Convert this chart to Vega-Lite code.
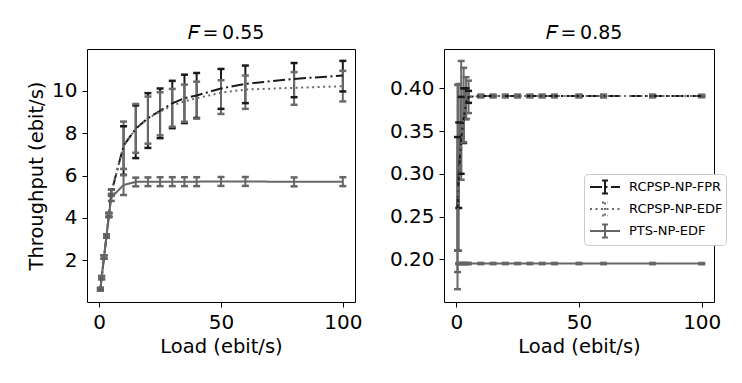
{
 "$schema": "https://vega.github.io/schema/vega-lite/v6.json",
 "background": "white",
 "padding": {"left": 26, "top": 23, "right": 5, "bottom": 5},
 "datasets": {
  "d": [
   {"p":"a","s":"RCPSP-NP-FPR","x":0.5,"m":0.64,"lo":0.58,"hi":0.70},
   {"p":"a","s":"RCPSP-NP-FPR","x":1,"m":1.19,"lo":1.12,"hi":1.26},
   {"p":"a","s":"RCPSP-NP-FPR","x":2,"m":2.16,"lo":2.08,"hi":2.24},
   {"p":"a","s":"RCPSP-NP-FPR","x":3,"m":3.15,"lo":3.07,"hi":3.23},
   {"p":"a","s":"RCPSP-NP-FPR","x":4,"m":4.15,"lo":4.06,"hi":4.24},
   {"p":"a","s":"RCPSP-NP-FPR","x":5,"m":5.2,"lo":5.06,"hi":5.34},
   {"p":"a","s":"RCPSP-NP-FPR","x":10,"m":7.4,"lo":6.03,"hi":8.32},
   {"p":"a","s":"RCPSP-NP-FPR","x":15,"m":8.2,"lo":6.82,"hi":9.3},
   {"p":"a","s":"RCPSP-NP-FPR","x":20,"m":8.7,"lo":7.3,"hi":9.88},
   {"p":"a","s":"RCPSP-NP-FPR","x":25,"m":9.05,"lo":7.76,"hi":10.1},
   {"p":"a","s":"RCPSP-NP-FPR","x":30,"m":9.4,"lo":8.23,"hi":10.46},
   {"p":"a","s":"RCPSP-NP-FPR","x":35,"m":9.64,"lo":8.47,"hi":10.75},
   {"p":"a","s":"RCPSP-NP-FPR","x":40,"m":9.77,"lo":8.71,"hi":10.83},
   {"p":"a","s":"RCPSP-NP-FPR","x":50,"m":10.1,"lo":9.14,"hi":11.02},
   {"p":"a","s":"RCPSP-NP-FPR","x":60,"m":10.32,"lo":9.41,"hi":11.18},
   {"p":"a","s":"RCPSP-NP-FPR","x":80,"m":10.55,"lo":9.69,"hi":11.3},
   {"p":"a","s":"RCPSP-NP-FPR","x":100,"m":10.71,"lo":9.96,"hi":11.4},
   {"p":"a","s":"RCPSP-NP-EDF","x":0.5,"m":0.64,"lo":0.58,"hi":0.70},
   {"p":"a","s":"RCPSP-NP-EDF","x":1,"m":1.19,"lo":1.12,"hi":1.26},
   {"p":"a","s":"RCPSP-NP-EDF","x":2,"m":2.16,"lo":2.08,"hi":2.24},
   {"p":"a","s":"RCPSP-NP-EDF","x":3,"m":3.15,"lo":3.07,"hi":3.23},
   {"p":"a","s":"RCPSP-NP-EDF","x":4,"m":4.15,"lo":4.06,"hi":4.24},
   {"p":"a","s":"RCPSP-NP-EDF","x":5,"m":5.2,"lo":5.1,"hi":5.35},
   {"p":"a","s":"RCPSP-NP-EDF","x":10,"m":7.4,"lo":6.31,"hi":8.54},
   {"p":"a","s":"RCPSP-NP-EDF","x":15,"m":8.2,"lo":7.07,"hi":9.37},
   {"p":"a","s":"RCPSP-NP-EDF","x":20,"m":8.7,"lo":7.5,"hi":9.72},
   {"p":"a","s":"RCPSP-NP-EDF","x":25,"m":9.0,"lo":7.89,"hi":9.92},
   {"p":"a","s":"RCPSP-NP-EDF","x":30,"m":9.3,"lo":8.3,"hi":10.08},
   {"p":"a","s":"RCPSP-NP-EDF","x":35,"m":9.49,"lo":8.53,"hi":10.28},
   {"p":"a","s":"RCPSP-NP-EDF","x":40,"m":9.64,"lo":8.68,"hi":10.42},
   {"p":"a","s":"RCPSP-NP-EDF","x":50,"m":9.9,"lo":8.9,"hi":10.49},
   {"p":"a","s":"RCPSP-NP-EDF","x":60,"m":10.05,"lo":9.14,"hi":10.71},
   {"p":"a","s":"RCPSP-NP-EDF","x":80,"m":10.13,"lo":9.33,"hi":10.87},
   {"p":"a","s":"RCPSP-NP-EDF","x":100,"m":10.21,"lo":9.49,"hi":10.93},
   {"p":"a","s":"PTS-NP-EDF","x":0.5,"m":0.64,"lo":0.58,"hi":0.70},
   {"p":"a","s":"PTS-NP-EDF","x":1,"m":1.19,"lo":1.12,"hi":1.26},
   {"p":"a","s":"PTS-NP-EDF","x":2,"m":2.16,"lo":2.08,"hi":2.24},
   {"p":"a","s":"PTS-NP-EDF","x":3,"m":3.15,"lo":3.07,"hi":3.23},
   {"p":"a","s":"PTS-NP-EDF","x":4,"m":4.12,"lo":4.03,"hi":4.21},
   {"p":"a","s":"PTS-NP-EDF","x":5,"m":4.97,"lo":4.8,"hi":5.14},
   {"p":"a","s":"PTS-NP-EDF","x":10,"m":5.55,"lo":5.08,"hi":6.02},
   {"p":"a","s":"PTS-NP-EDF","x":15,"m":5.7,"lo":5.49,"hi":5.9},
   {"p":"a","s":"PTS-NP-EDF","x":20,"m":5.71,"lo":5.5,"hi":5.91},
   {"p":"a","s":"PTS-NP-EDF","x":25,"m":5.71,"lo":5.5,"hi":5.92},
   {"p":"a","s":"PTS-NP-EDF","x":30,"m":5.71,"lo":5.5,"hi":5.92},
   {"p":"a","s":"PTS-NP-EDF","x":35,"m":5.71,"lo":5.5,"hi":5.92},
   {"p":"a","s":"PTS-NP-EDF","x":40,"m":5.71,"lo":5.5,"hi":5.92},
   {"p":"a","s":"PTS-NP-EDF","x":50,"m":5.72,"lo":5.51,"hi":5.93},
   {"p":"a","s":"PTS-NP-EDF","x":60,"m":5.72,"lo":5.51,"hi":5.93},
   {"p":"a","s":"PTS-NP-EDF","x":80,"m":5.70,"lo":5.49,"hi":5.91},
   {"p":"a","s":"PTS-NP-EDF","x":100,"m":5.71,"lo":5.5,"hi":5.92},
   {"p":"b","s":"RCPSP-NP-FPR","x":0.5,"m":0.26,"lo":0.21,"hi":0.343},
   {"p":"b","s":"RCPSP-NP-FPR","x":1,"m":0.30,"lo":0.26,"hi":0.36},
   {"p":"b","s":"RCPSP-NP-FPR","x":2,"m":0.34,"lo":0.30,"hi":0.39},
   {"p":"b","s":"RCPSP-NP-FPR","x":3,"m":0.365,"lo":0.336,"hi":0.40},
   {"p":"b","s":"RCPSP-NP-FPR","x":4,"m":0.383,"lo":0.364,"hi":0.40},
   {"p":"b","s":"RCPSP-NP-FPR","x":5,"m":0.39,"lo":0.383,"hi":0.397},
   {"p":"b","s":"RCPSP-NP-FPR","x":10,"m":0.391,"lo":0.3897,"hi":0.3923},
   {"p":"b","s":"RCPSP-NP-FPR","x":15,"m":0.391,"lo":0.3897,"hi":0.3923},
   {"p":"b","s":"RCPSP-NP-FPR","x":20,"m":0.391,"lo":0.3897,"hi":0.3923},
   {"p":"b","s":"RCPSP-NP-FPR","x":25,"m":0.391,"lo":0.3897,"hi":0.3923},
   {"p":"b","s":"RCPSP-NP-FPR","x":30,"m":0.391,"lo":0.3897,"hi":0.3923},
   {"p":"b","s":"RCPSP-NP-FPR","x":35,"m":0.391,"lo":0.3897,"hi":0.3923},
   {"p":"b","s":"RCPSP-NP-FPR","x":40,"m":0.391,"lo":0.3897,"hi":0.3923},
   {"p":"b","s":"RCPSP-NP-FPR","x":50,"m":0.391,"lo":0.3897,"hi":0.3923},
   {"p":"b","s":"RCPSP-NP-FPR","x":60,"m":0.391,"lo":0.3897,"hi":0.3923},
   {"p":"b","s":"RCPSP-NP-FPR","x":80,"m":0.391,"lo":0.3897,"hi":0.3923},
   {"p":"b","s":"RCPSP-NP-FPR","x":100,"m":0.391,"lo":0.3897,"hi":0.3923},
   {"p":"b","s":"RCPSP-NP-EDF","x":0.5,"m":0.245,"lo":0.165,"hi":0.404},
   {"p":"b","s":"RCPSP-NP-EDF","x":1,"m":0.29,"lo":0.21,"hi":0.405},
   {"p":"b","s":"RCPSP-NP-EDF","x":2,"m":0.33,"lo":0.293,"hi":0.432},
   {"p":"b","s":"RCPSP-NP-EDF","x":3,"m":0.365,"lo":0.337,"hi":0.424},
   {"p":"b","s":"RCPSP-NP-EDF","x":4,"m":0.385,"lo":0.364,"hi":0.413},
   {"p":"b","s":"RCPSP-NP-EDF","x":5,"m":0.39,"lo":0.371,"hi":0.409},
   {"p":"b","s":"RCPSP-NP-EDF","x":10,"m":0.391,"lo":0.3897,"hi":0.3923},
   {"p":"b","s":"RCPSP-NP-EDF","x":15,"m":0.391,"lo":0.3897,"hi":0.3923},
   {"p":"b","s":"RCPSP-NP-EDF","x":20,"m":0.391,"lo":0.3897,"hi":0.3923},
   {"p":"b","s":"RCPSP-NP-EDF","x":25,"m":0.391,"lo":0.3897,"hi":0.3923},
   {"p":"b","s":"RCPSP-NP-EDF","x":30,"m":0.391,"lo":0.3897,"hi":0.3923},
   {"p":"b","s":"RCPSP-NP-EDF","x":35,"m":0.391,"lo":0.3897,"hi":0.3923},
   {"p":"b","s":"RCPSP-NP-EDF","x":40,"m":0.391,"lo":0.3897,"hi":0.3923},
   {"p":"b","s":"RCPSP-NP-EDF","x":50,"m":0.391,"lo":0.3897,"hi":0.3923},
   {"p":"b","s":"RCPSP-NP-EDF","x":60,"m":0.391,"lo":0.3897,"hi":0.3923},
   {"p":"b","s":"RCPSP-NP-EDF","x":80,"m":0.391,"lo":0.3897,"hi":0.3923},
   {"p":"b","s":"RCPSP-NP-EDF","x":100,"m":0.391,"lo":0.3897,"hi":0.3923},
   {"p":"b","s":"PTS-NP-EDF","x":0.5,"m":0.195,"lo":0.185,"hi":0.21},
   {"p":"b","s":"PTS-NP-EDF","x":1,"m":0.195,"lo":0.1943,"hi":0.1957},
   {"p":"b","s":"PTS-NP-EDF","x":2,"m":0.195,"lo":0.1943,"hi":0.1957},
   {"p":"b","s":"PTS-NP-EDF","x":3,"m":0.195,"lo":0.1943,"hi":0.1957},
   {"p":"b","s":"PTS-NP-EDF","x":4,"m":0.195,"lo":0.1943,"hi":0.1957},
   {"p":"b","s":"PTS-NP-EDF","x":5,"m":0.195,"lo":0.1943,"hi":0.1957},
   {"p":"b","s":"PTS-NP-EDF","x":10,"m":0.195,"lo":0.1943,"hi":0.1957},
   {"p":"b","s":"PTS-NP-EDF","x":15,"m":0.195,"lo":0.1943,"hi":0.1957},
   {"p":"b","s":"PTS-NP-EDF","x":20,"m":0.195,"lo":0.1943,"hi":0.1957},
   {"p":"b","s":"PTS-NP-EDF","x":25,"m":0.195,"lo":0.1943,"hi":0.1957},
   {"p":"b","s":"PTS-NP-EDF","x":30,"m":0.195,"lo":0.1943,"hi":0.1957},
   {"p":"b","s":"PTS-NP-EDF","x":35,"m":0.195,"lo":0.1943,"hi":0.1957},
   {"p":"b","s":"PTS-NP-EDF","x":40,"m":0.195,"lo":0.1943,"hi":0.1957},
   {"p":"b","s":"PTS-NP-EDF","x":50,"m":0.195,"lo":0.1943,"hi":0.1957},
   {"p":"b","s":"PTS-NP-EDF","x":60,"m":0.195,"lo":0.1943,"hi":0.1957},
   {"p":"b","s":"PTS-NP-EDF","x":80,"m":0.195,"lo":0.1943,"hi":0.1957},
   {"p":"b","s":"PTS-NP-EDF","x":100,"m":0.195,"lo":0.1943,"hi":0.1957}
  ]
 },
 "data": {"name": "d"},
 "spacing": 25,
 "hconcat": [
  {
   "width": 268, "height": 253,
   "title": "\ud835\udc39\u2009=\u20090.55",
   "transform": [{"filter": "datum.p == 'a'"}],
   "encoding": {
    "x": {"field": "x", "type": "quantitative", "scale": {"domain": [-5, 105], "nice": false, "zero": false}, "axis": {"values": [0, 50, 100], "title": "Load (ebit/s)"}},
    "color": {"field": "s", "type": "nominal", "scale": {"domain": ["RCPSP-NP-FPR", "RCPSP-NP-EDF", "PTS-NP-EDF"], "range": ["#1a1a1a", "#6a6a6a", "#666666"]}, "legend": null}
   },
   "layer": [
    {"mark": {"type": "rule", "strokeWidth": 2}, "encoding": {"y": {"field": "lo", "type": "quantitative", "scale": {"domain": [0.04, 11.96], "nice": false, "zero": false}, "axis": {"values": [2, 4, 6, 8, 10], "title": "Throughput (ebit/s)"}}, "y2": {"field": "hi"}}},
    {"mark": {"type": "tick", "orient": "horizontal", "size": 7, "thickness": 2.5, "opacity": 1}, "encoding": {"y": {"field": "lo", "type": "quantitative"}}},
    {"mark": {"type": "tick", "orient": "horizontal", "size": 7, "thickness": 2.5, "opacity": 1}, "encoding": {"y": {"field": "hi", "type": "quantitative"}}},
    {"mark": {"type": "line", "strokeWidth": 2}, "encoding": {"y": {"field": "m", "type": "quantitative"}, "strokeDash": {"field": "s", "type": "nominal", "scale": {"domain": ["RCPSP-NP-FPR", "RCPSP-NP-EDF", "PTS-NP-EDF"], "range": [[12, 3.5, 2, 3.5], [2, 3.5], [1, 0]]}, "legend": null}}}
   ]
  },
  {
   "width": 270, "height": 253,
   "title": "\ud835\udc39\u2009=\u20090.85",
   "transform": [{"filter": "datum.p == 'b'"}],
   "encoding": {
    "x": {"field": "x", "type": "quantitative", "scale": {"domain": [-5, 105], "nice": false, "zero": false}, "axis": {"values": [0, 50, 100], "title": "Load (ebit/s)"}},
    "color": {"field": "s", "type": "nominal", "title": null, "scale": {"domain": ["RCPSP-NP-FPR", "RCPSP-NP-EDF", "PTS-NP-EDF"], "range": ["#1a1a1a", "#6a6a6a", "#666666"]},
      "legend": {"orient": "none", "legendX": 140, "legendY": 125, "title": null, "symbolType": "M-0.78,0H2.56M0.89,-0.72V0.72M0.56,-0.72H1.22M0.56,0.72H1.22", "symbolSize": 324, "symbolStrokeWidth": 2}}
   },
   "layer": [
    {"mark": {"type": "rule", "strokeWidth": 2}, "encoding": {"y": {"field": "lo", "type": "quantitative", "scale": {"domain": [0.15, 0.446], "nice": false, "zero": false}, "axis": {"values": [0.2, 0.25, 0.3, 0.35, 0.4], "format": ".2f", "title": null}}, "y2": {"field": "hi"}}},
    {"mark": {"type": "tick", "orient": "horizontal", "size": 7, "thickness": 2.5, "opacity": 1}, "encoding": {"y": {"field": "lo", "type": "quantitative"}}},
    {"mark": {"type": "tick", "orient": "horizontal", "size": 7, "thickness": 2.5, "opacity": 1}, "encoding": {"y": {"field": "hi", "type": "quantitative"}}},
    {"mark": {"type": "line", "strokeWidth": 2}, "encoding": {"y": {"field": "m", "type": "quantitative"},
      "strokeDash": {"field": "s", "type": "nominal", "title": null, "scale": {"domain": ["RCPSP-NP-FPR", "RCPSP-NP-EDF", "PTS-NP-EDF"], "range": [[12, 3.5, 2, 3.5], [2, 3.5], [1, 0]]},
        "legend": {"orient": "none", "legendX": 140, "legendY": 125, "title": null, "symbolType": "M-0.78,0H2.56M0.89,-0.72V0.72M0.56,-0.72H1.22M0.56,0.72H1.22", "symbolSize": 324, "symbolStrokeWidth": 2}}}}
   ]
  }
 ],
 "resolve": {"scale": {"x": "independent", "y": "independent", "color": "independent", "strokeDash": "independent"}, "legend": {"color": "independent", "strokeDash": "independent"}},
 "config": {
  "view": {"stroke": "black", "strokeWidth": 1},
  "axis": {"grid": false, "domain": false, "tickColor": "black", "tickSize": 5, "tickWidth": 1, "labelFont": "DejaVu Sans", "labelFontSize": 20, "labelColor": "black", "labelPadding": 5, "titleFont": "DejaVu Sans", "titleFontSize": 19.5, "titleFontWeight": "normal", "titleColor": "black", "titlePadding": 5},
  "title": {"font": "DejaVu Sans", "fontSize": 19, "fontWeight": "normal", "color": "black", "offset": 6, "dx": 5},
  "legend": {"labelFont": "DejaVu Sans", "labelFontSize": 13, "labelColor": "black", "rowPadding": 0, "padding": 3, "strokeColor": "#cccccc", "fillColor": "white", "cornerRadius": 4, "labelOffset": 22}
 }
}
